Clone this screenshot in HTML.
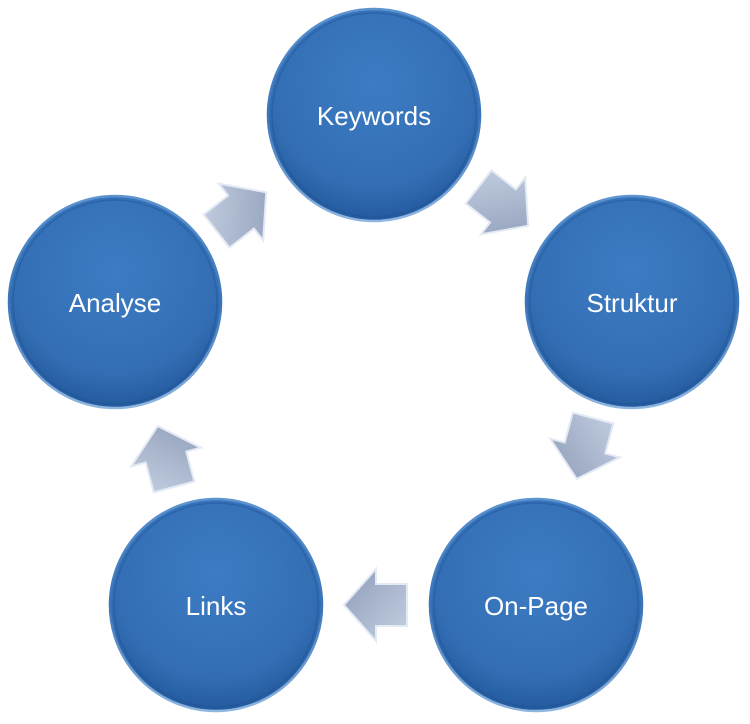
<!DOCTYPE html>
<html><head><meta charset="utf-8"><style>
html,body{margin:0;padding:0;background:#fff;}
svg{display:block;}
text{font-family:"Liberation Sans",sans-serif;font-size:26px;fill:#fff;text-anchor:middle;}
</style></head><body>
<svg width="750" height="724" viewBox="0 0 750 724" xmlns="http://www.w3.org/2000/svg">
<defs>
<radialGradient id="cg" cx="50%" cy="35%" r="65%">
<stop offset="0" stop-color="#3c7cc4"/>
<stop offset="0.75" stop-color="#336eb4"/>
<stop offset="1" stop-color="#245a9e"/>
</radialGradient>
<linearGradient id="rim" x1="0" y1="0" x2="0" y2="1">
<stop offset="0" stop-color="#5d94d0"/>
<stop offset="0.5" stop-color="#3a74b8"/>
<stop offset="1" stop-color="#8fb6e0"/>
</linearGradient>
<linearGradient id="ag" x1="0" y1="0" x2="1" y2="1">
<stop offset="0" stop-color="#c4d0e2"/>
<stop offset="1" stop-color="#8e9cb8"/>
</linearGradient>
<g id="c">
<circle r="106" fill="url(#cg)" stroke="url(#rim)" stroke-width="2.5"/>
<circle r="102" fill="none" stroke="#1e4f90" stroke-width="1.5" opacity="0.4"/>
</g>
<polygon id="a" points="-31,-21 0,-21 0,-36 32,0 0,36 0,21 -31,21" fill="url(#ag)" stroke="#e4eaf4" stroke-width="2"/>
</defs>
<use href="#c" x="374" y="115"/>
<use href="#c" x="632" y="302"/>
<use href="#c" x="536" y="605"/>
<use href="#c" x="216" y="605"/>
<use href="#c" x="115" y="302"/>
<text x="374" y="125">Keywords</text>
<text x="632" y="312">Struktur</text>
<text x="536" y="615">On-Page</text>
<text x="216" y="615">Links</text>
<text x="115" y="312">Analyse</text>
<use href="#a" transform="translate(241,212) rotate(-38)"/>
<use href="#a" transform="translate(503,206) rotate(38)"/>
<use href="#a" transform="translate(585,448) rotate(105)"/>
<use href="#a" transform="translate(376,605) rotate(180)"/>
<use href="#a" transform="translate(166,457) rotate(-105)"/>
</svg>
</body></html>
